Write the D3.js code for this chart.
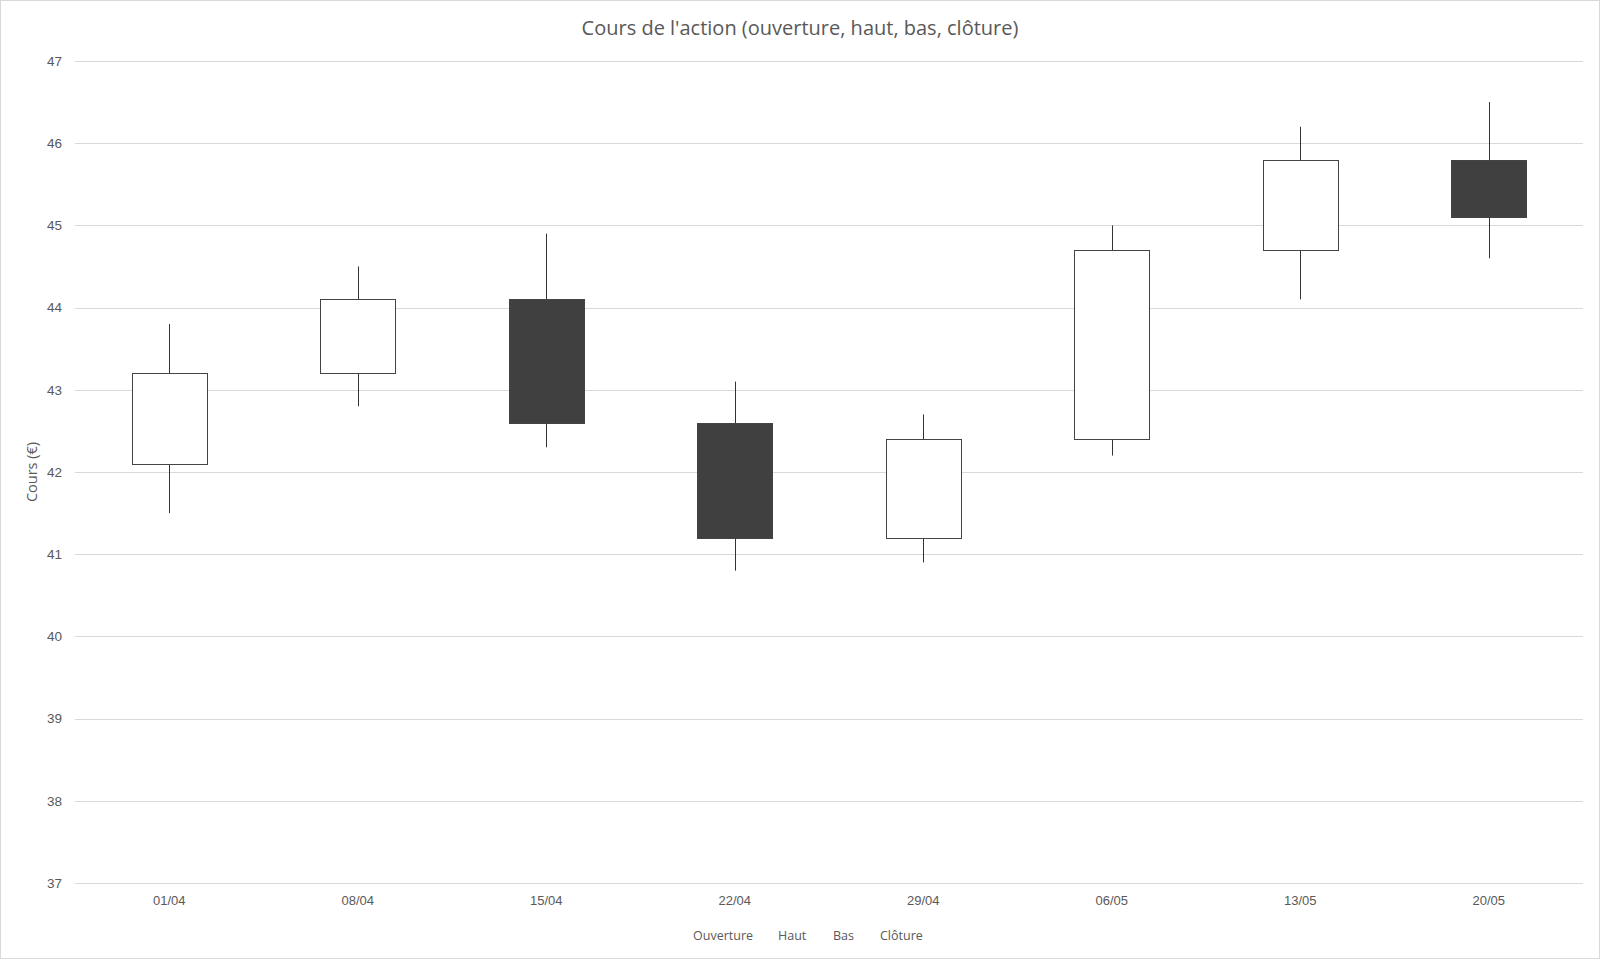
<!DOCTYPE html>
<html>
<head>
<meta charset="utf-8">
<script src="https://cdn.jsdelivr.net/npm/d3@7.9.0/dist/d3.min.js"></script>
<style>
  html, body { margin: 0; padding: 0; background: #fff; }
  svg { display: block; font-family: "Open Sans", "Liberation Sans", sans-serif; }
</style>
</head>
<body>
<svg width="1601" height="960"></svg>
<script>
// weekly candles
const dates = ['01/04', '08/04', '15/04', '22/04', '29/04', '06/05', '13/05', '20/05'];
const opens = [42.1, 43.2, 44.1, 42.6, 41.2, 42.4, 44.7, 45.8];
const highs = [43.8, 44.5, 44.9, 43.1, 42.7, 45.0, 46.2, 46.5];
const lows = [41.5, 42.8, 42.3, 40.8, 40.9, 42.2, 44.1, 44.6];
const closes = [43.2, 44.1, 42.6, 41.2, 42.4, 44.7, 45.8, 45.1];
const yTicks = [37, 38, 39, 40, 41, 42, 43, 44, 45, 46, 47];
const legendLabels = ['Ouverture', 'Haut', 'Bas', 'Clôture'];

const svg = d3.select('svg');
const textColor = '#595959';

// outer frame
svg.append('rect')
  .attr('x', 0.5).attr('y', 0.5)
  .attr('width', 1599).attr('height', 958)
  .attr('fill', '#fff')
  .attr('stroke', '#d9d9d9');

const plotLeft = 75, plotRight = 1583, plotTop = 61, plotBottom = 883;

let x = d3.scaleBand().domain(dates).range([plotLeft, plotRight]);
let y = d3.scaleLinear().domain([37, 47]).range([plotBottom, plotTop]);

// gridlines
svg.append('g')
  .selectAll('line')
  .data(yTicks)
  .join('line')
  .attr('x1', plotLeft).attr('x2', plotRight)
  .attr('y1', d => Math.round(y(d)) + 0.5)
  .attr('y2', d => Math.round(y(d)) + 0.5)
  .attr('stroke', '#d9d9d9');

// y axis labels
let yAxis = svg.append('g')
  .attr('transform', `translate(${plotLeft - 13},0)`)
  .call(d3.axisLeft(y).tickValues(yTicks).tickSize(0).tickPadding(0));
yAxis.select('.domain').remove();
yAxis.selectAll('text')
  .attr('fill', textColor)
  .style('font-size', '13.5px');

// x axis labels
let xAxis = svg.append('g')
  .attr('transform', `translate(0,${plotBottom + 13})`)
  .call(d3.axisBottom(x).tickSize(0).tickPadding(0));
xAxis.select('.domain').remove();
xAxis.selectAll('text')
  .attr('fill', textColor)
  .attr('dy', '0.71em')
  .style('font-size', '13px');

// candles
const bodyW = x.bandwidth() * 0.4;
const candles = svg.append('g')
  .selectAll('g')
  .data(dates.map((d, i) => ({ date: d, o: opens[i], h: highs[i], l: lows[i], c: closes[i] })))
  .join('g');

candles.append('line')
  .attr('x1', d => Math.round(x(d.date) + x.bandwidth() / 2) + 0.5)
  .attr('x2', d => Math.round(x(d.date) + x.bandwidth() / 2) + 0.5)
  .attr('y1', d => y(d.h))
  .attr('y2', d => y(d.l))
  .attr('stroke', '#333')
  .attr('stroke-width', 1);

candles.append('rect')
  .attr('x', d => Math.round(x(d.date) + x.bandwidth() / 2 - bodyW / 2) + 0.5)
  .attr('y', d => Math.round(y(Math.max(d.o, d.c))) + 0.5)
  .attr('width', Math.round(bodyW))
  .attr('height', d => Math.round(y(Math.min(d.o, d.c))) - Math.round(y(Math.max(d.o, d.c))))
  .attr('fill', d => d.c >= d.o ? '#fff' : '#404040')
  .attr('stroke', '#444')
  .attr('stroke-width', 1);

// title
svg.append('text')
  .attr('x', 800).attr('y', 35)
  .attr('text-anchor', 'middle')
  .attr('fill', textColor)
  .style('font-size', '20px')
  .text("Cours de l'action (ouverture, haut, bas, clôture)");

// y axis title
svg.append('text')
  .attr('transform', `translate(37,${(plotTop + plotBottom) / 2}) rotate(-90)`)
  .attr('text-anchor', 'middle')
  .attr('fill', textColor)
  .style('font-size', '14.5px')
  .text('Cours (€)');

// legend (text only, no markers)
const legendX = [693, 778, 833, 880];
svg.append('g')
  .selectAll('text')
  .data(legendLabels)
  .join('text')
  .attr('x', (d, i) => legendX[i])
  .attr('y', 940)
  .attr('fill', textColor)
  .style('font-size', '12.5px')
  .text(d => d);
</script>
</body>
</html>
